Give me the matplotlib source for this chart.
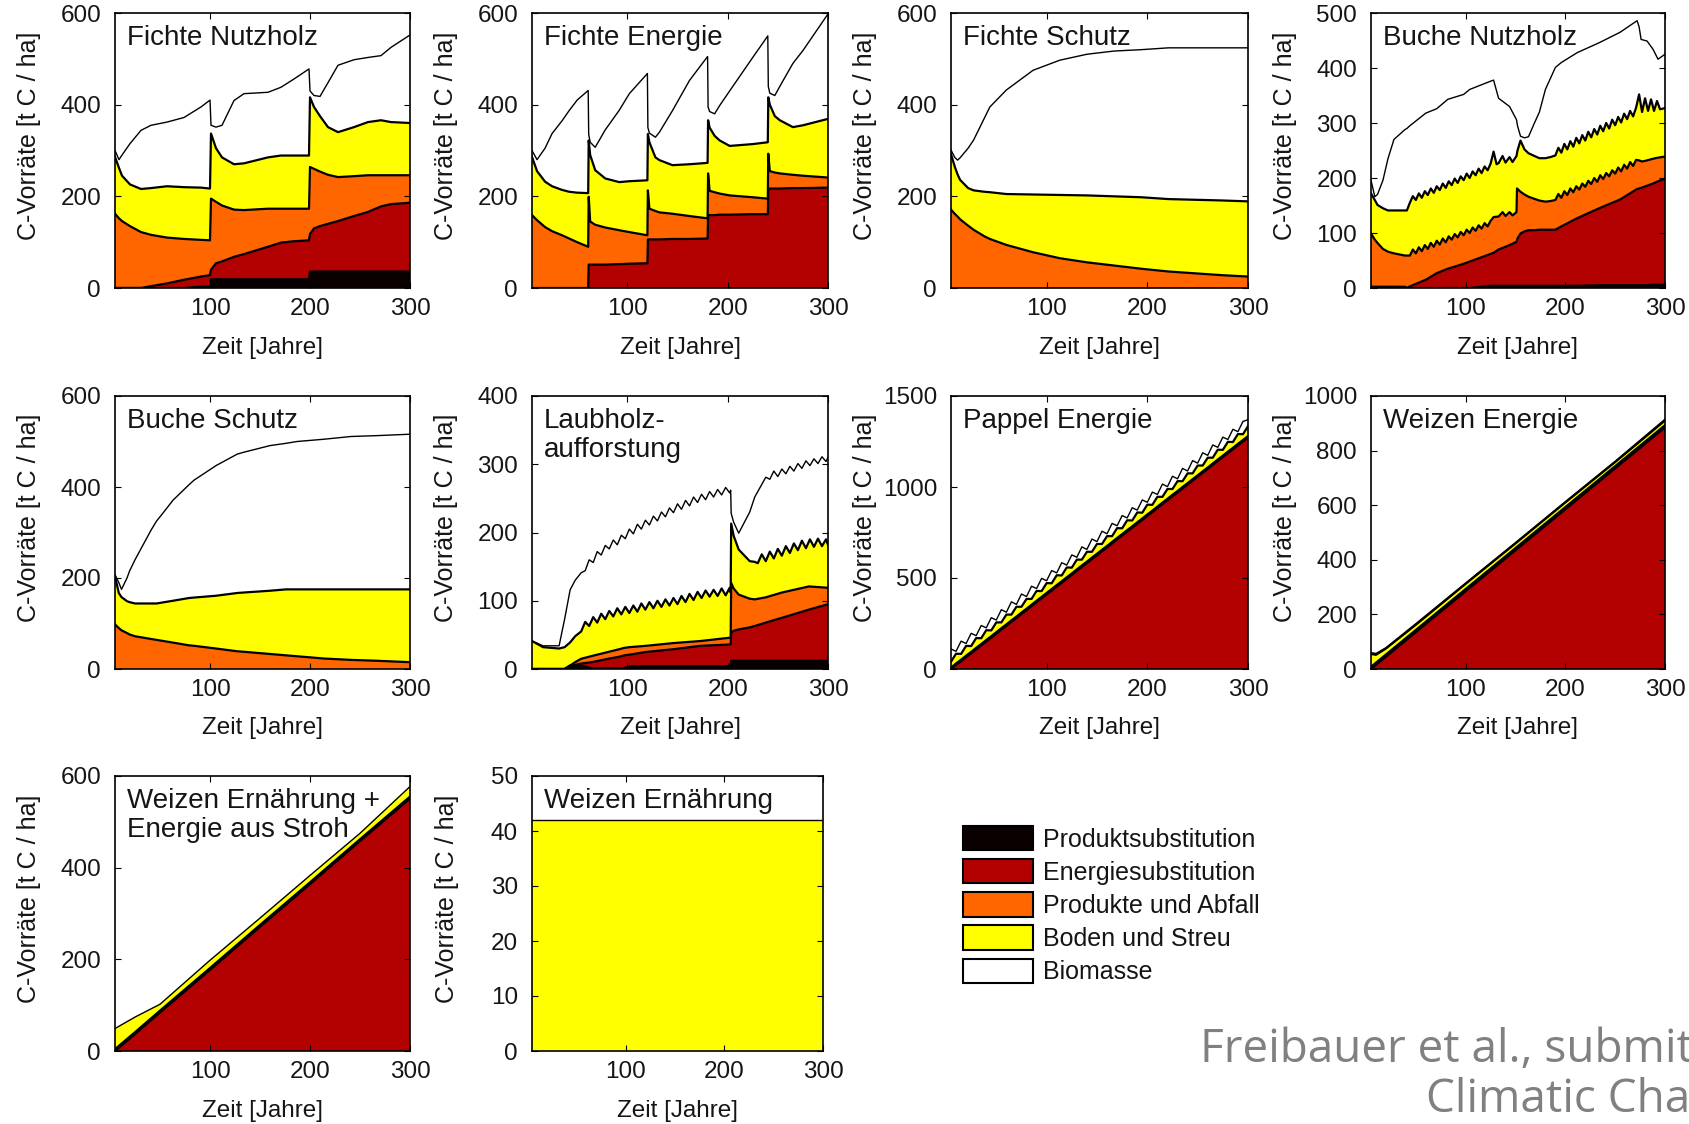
import matplotlib
matplotlib.use('Agg')
import matplotlib.pyplot as plt
from matplotlib.patches import Patch

plt.rcParams['font.family'] = ['Liberation Sans', 'DejaVu Sans']

# ---------------- data (cumulative tops of the stacked layers) ----------------
LABELS = ['Produktsubstitution', 'Energiesubstitution', 'Produkte und Abfall',
          'Boden und Streu', 'Biomasse']
COLORS = ['#0a0000', '#b30000', '#ff6600', '#ffff00', '#ffffff']

# Fichte Nutzholz
fn_year = [5, 9, 12, 20, 31, 41, 57, 74, 91, 100, 101, 106, 112, 124, 134, 158, 171, 184, 199,
           200, 204, 210, 218, 228, 244, 258, 271, 281, 300]
fn_prod = [0, 0, 0, 0, 0, 0, 0, 0, 3, 4, 19, 19, 19, 19, 19, 19, 19, 19, 19,
           36, 36, 36, 36, 36, 36, 36, 36, 36, 36]
fn_ener = [0, 0, 0, 0, 0, 4, 10, 18, 25, 28, 40, 54, 58, 68, 74, 90, 99, 102, 104,
           118, 130, 135, 140, 146, 157, 166, 178, 183, 186]
fn_abf = [162, 152, 146, 135, 122, 116, 110, 107, 105, 104, 195, 188, 180, 171, 170, 173, 173, 173, 173,
          264, 260, 254, 247, 242, 244, 246, 246, 246, 246]
fn_bod = [286, 262, 245, 226, 216, 218, 222, 220, 219, 217, 337, 305, 285, 270, 272, 285, 289, 289, 289,
          416, 395, 375, 351, 340, 351, 362, 366, 362, 360]
fn_bio = [300, 280, 290, 315, 344, 355, 362, 372, 395, 410, 355, 351, 355, 409, 424, 427, 438, 456, 478,
          430, 420, 418, 448, 486, 498, 503, 507, 525, 552]

# Fichte Energie
fe_year = [5, 10, 18, 25, 35, 42, 50, 61, 61.5, 63, 68, 78, 92, 102, 120, 120.5, 122, 128, 132, 145,
           162, 180, 180.5, 182, 187, 192, 202, 225, 240, 240.5, 242, 247, 252, 265, 275, 300]
fe_ener = [0, 0, 0, 0, 0, 0, 0, 0, 51, 51, 51, 51, 52, 53, 54, 106, 106, 106, 106, 107,
           107, 108, 159, 159, 159, 160, 160, 161, 161, 217, 217, 217, 217, 218, 218, 219]
fe_abf = [159, 148, 133, 124, 115, 108, 100, 90, 199, 145, 138, 132, 126, 122, 115, 213, 173, 168, 165, 162,
          157, 152, 250, 212, 209, 206, 202, 198, 195, 293, 255, 252, 250, 247, 245, 241]
fe_bod = [286, 255, 232, 222, 214, 210, 208, 207, 322, 290, 257, 239, 231, 233, 235, 336, 318, 285, 279, 268,
          270, 273, 366, 350, 332, 322, 310, 314, 318, 416, 400, 375, 366, 351, 355, 369]
fe_bio = [300, 280, 305, 337, 365, 387, 410, 431, 335, 318, 307, 345, 388, 424, 468, 350, 338, 329, 340, 387,
          453, 505, 395, 385, 380, 398, 430, 503, 550, 440, 425, 420, 440, 490, 518, 598]

# Fichte Schutz
fs_year = [5, 8.7, 11.5, 14, 22, 27.5, 38, 43.6, 60, 86.5, 113, 140, 167, 194, 221, 274, 300]
fs_abf = [171, 162, 156, 150, 136, 127, 113, 107, 94, 78, 65, 56, 49, 42, 36, 28, 25]
fs_bod = [292, 265, 248, 236, 218, 213, 210, 209, 205, 204, 203, 202, 200, 198, 194, 191, 189]
fs_bio = [301, 285, 279, 284, 305, 323, 370, 395, 432, 475, 497, 510, 517, 520, 524, 524, 524]

# Buche Nutzholz
bn_year = [5, 8.8, 11.5, 17, 22, 28, 39, 41, 44, 60, 71, 82, 98, 104, 125, 128, 133, 144, 151, 152,
           155, 159, 163, 169, 174, 180, 190, 196, 212, 234, 255, 272, 274, 276, 282, 288, 293, 300]
bn_prod = [2, 2, 2, 2, 2, 2, 2, 0, 0, 0, 0, 0, 0, 0, 4, 4, 4, 4, 4, 4,
           4, 4, 4, 4, 4, 4, 4, 4, 4, 5, 5, 5, 5, 5, 5, 6, 6, 6]
bn_ener = [2, 2, 2, 2, 2, 2, 2, 0, 3, 15, 27, 35, 44, 48, 62, 64, 70, 78, 84, 90,
           99, 103, 105, 105, 106, 106, 106, 112, 127, 145, 161, 180, 181, 182, 186, 190, 194, 199]
bn_bio = [196, 166, 170, 196, 235, 270, 288, 290, 295, 318, 326, 343, 352, 361, 376, 378, 345, 330, 306, 295,
          276, 273, 275, 300, 320, 361, 401, 410, 428, 446, 465, 486, 475, 452, 449, 434, 416, 425]
bn_abf_year = [5, 8.8, 11.5, 17, 22, 28, 39, 41,
               44, 47, 50, 53, 56, 59, 62, 65, 68, 71, 74, 77, 80, 83, 86, 89, 92, 95, 98, 101,
               104, 107, 110, 113, 116, 119, 122, 125,
               128, 133, 137, 140, 144, 147, 151, 151.5, 155, 159, 163, 169, 174, 180, 185,
               190, 193, 196, 199, 202, 205, 208, 211, 214, 217, 220, 223, 226, 229, 232, 235,
               238, 241, 244, 247, 250, 253, 256, 259, 262, 265, 268, 271,
               274, 277, 282, 288, 293, 300]
bn_abf = [99, 88, 82, 71, 66, 63, 59, 59,
          59, 70, 63, 74, 67, 78, 71, 82, 75, 86, 79, 90, 83, 94, 88, 98, 92, 102, 96, 106,
          100, 110, 104, 114, 108, 118, 112, 122,
          129, 130, 138, 131, 138, 132, 138, 181, 175, 170, 166, 162, 159, 157, 158,
          160, 171, 164, 176, 169, 181, 174, 185, 179, 190, 184, 195, 189, 200, 193, 205,
          198, 209, 203, 214, 208, 219, 212, 224, 217, 229, 222, 233,
          232, 230, 232, 235, 237, 239]
bn_bod_year = [5, 8.8, 11.5, 17, 22, 28, 39, 41,
               44, 47, 50, 53, 56, 59, 62, 65, 68, 71, 74, 77, 80, 83, 86, 89, 92, 95, 98, 101,
               104, 107, 110, 113, 116, 119, 122, 125,
               128, 131, 133, 137, 140, 144, 147, 151, 152, 155, 159, 163, 169, 174, 180, 185,
               190, 193, 196, 199, 202, 205, 208, 211, 214, 217, 220, 223, 226, 229, 232, 235,
               238, 241, 244, 247, 250, 253, 256, 259, 262, 265, 268, 271,
               274, 277, 280, 283, 286, 289, 292, 295, 300]
bn_bod = [172, 160, 151, 145, 141, 141, 141, 141,
          155, 167, 160, 172, 164, 176, 169, 181, 173, 185, 178, 190, 182, 194, 187, 199, 191, 203, 196, 208,
          200, 212, 205, 217, 209, 221, 214, 226,
          248, 225, 227, 240, 228, 238, 229, 240, 250, 268, 252, 245, 240, 236, 236, 238,
          241, 255, 246, 262, 252, 267, 257, 273, 263, 278, 268, 284, 274, 289, 279, 295,
          285, 300, 290, 306, 296, 311, 301, 317, 307, 322, 312, 328,
          352, 320, 345, 322, 343, 322, 340, 325, 327]

# Buche Schutz
bs_year = [5, 8.8, 11.5, 17, 19.5, 25, 41, 46.5, 52, 63, 79, 84, 106, 127, 133, 160, 176, 187, 214, 241, 268, 300]
bs_abf = [98, 90, 85, 79, 76, 72, 66, 64, 62, 58, 52, 51, 45, 39, 38, 33, 30, 28, 23, 20, 18, 15]
bs_bod = [204, 167, 158, 149, 147, 144, 144, 144, 146, 150, 156, 157, 161, 167, 168, 172, 175, 175, 175, 175, 175, 175]
bs_bio = [207, 190, 175, 200, 215, 240, 305, 325, 340, 371, 405, 415, 447, 472, 476, 491, 496, 500, 505, 511, 513, 516]

# Laubholzaufforstung
la_year = [5, 16, 32, 37.5, 43, 48, 54, 64.5, 81, 92, 97, 102, 119, 146, 173, 203, 203.5, 206, 211, 222,
           227, 238, 254, 281, 300]
la_prod = [0, 0, 0, 0, 5, 5, 5, 1, 1, 1, 1, 4, 4, 4, 4, 4, 12, 12, 12, 12, 12, 12, 12, 12, 12]
la_ener = [0, 0, 0, 0, 5, 6, 8, 10, 15, 18, 20, 21, 25, 29, 34, 36, 53, 56, 58, 61, 63, 68, 75, 87, 95]
la_abf = [0, 0, 0, 0, 5, 10, 15, 19, 25, 29, 31, 32, 34, 38, 41, 46, 126, 118, 109, 103, 102, 105, 112, 121, 119]
la_bod_year = [5, 16, 32, 37.5, 43, 48,
               54, 58, 62, 66, 70, 74, 78, 82, 86, 90, 94, 98, 102, 106, 110, 114, 118, 122, 126,
               130, 134, 138, 142, 146, 150, 154, 158, 162, 166, 170, 174, 178, 182, 186, 190,
               194, 198, 202, 203, 203.5, 206, 211, 222, 227,
               230, 234, 238, 242, 246, 250, 254, 258, 262, 266, 270, 274, 278, 282, 286, 290,
               294, 298, 300]
la_bod = [41, 32, 30, 32, 39, 48,
          55, 69, 63, 76, 68, 81, 73, 85, 77, 89, 80, 91, 82, 93, 84, 96, 87, 98, 89,
          100, 91, 102, 93, 104, 95, 107, 98, 110, 101, 113, 104, 115, 106, 116, 107,
          118, 108, 119, 112, 213, 195, 175, 158, 157,
          155, 168, 158, 172, 162, 176, 166, 180, 170, 184, 174, 188, 177, 190, 179, 191,
          180, 190, 182]
la_bio_year = [5, 16, 32, 37.5, 43, 48, 54,
               58, 62, 66, 70, 74, 78, 82, 86, 90, 94, 98, 102, 106, 110, 114, 118, 122, 126,
               130, 134, 138, 142, 146, 150, 154, 158, 162, 166, 170, 174, 178, 182, 186, 190,
               194, 198, 202, 203, 203.5, 206, 211, 222, 227, 238,
               242, 246, 250, 254, 258, 262, 266, 270, 274, 278, 282, 286, 290, 294, 298, 300]
la_bio = [41, 34, 34, 73, 116, 130, 141,
          144, 160, 156, 172, 167, 181, 176, 189, 182, 196, 191, 205, 198, 212, 205, 218, 211, 224,
          217, 230, 223, 236, 229, 242, 234, 247, 239, 252, 244, 256, 248, 260, 252, 263,
          255, 266, 258, 262, 228, 215, 199, 230, 252, 281,
          278, 290, 282, 293, 286, 297, 290, 301, 294, 305, 298, 308, 301, 311, 304, 310]

# Pappel Energie
pe_year = [5, 10, 15, 20, 25, 30, 35, 40, 45, 50, 55, 60, 65, 70, 75, 80, 85, 90, 95, 100,
           105, 110, 115, 120, 125, 130, 135, 140, 145, 150, 155, 160, 165, 170, 175, 180, 185, 190, 195, 200,
           205, 210, 215, 220, 225, 230, 235, 240, 245, 250, 255, 260, 265, 270, 275, 280, 285, 290, 295, 300]
pe_ener = [0, 22, 43, 65, 86, 108, 129, 151, 172, 194, 216, 237, 259, 280, 302, 323, 345, 367, 388, 410,
           431, 453, 474, 496, 517, 539, 561, 582, 604, 625, 647, 668, 690, 712, 733, 755, 776, 798, 819, 841,
           862, 884, 906, 927, 949, 970, 992, 1013, 1035, 1056, 1078, 1099, 1121, 1143, 1164, 1186, 1207, 1229, 1250, 1272]
pe_abf = [8, 30, 51, 73, 94, 116, 137, 159, 180, 202, 224, 245, 267, 288, 310, 331, 353, 375, 396, 418,
          439, 461, 482, 504, 525, 547, 569, 590, 612, 633, 655, 676, 698, 720, 741, 763, 784, 806, 827, 849,
          870, 892, 914, 935, 957, 978, 1000, 1021, 1043, 1064, 1086, 1107, 1129, 1151, 1172, 1194, 1215, 1237, 1258, 1280]
pe_bod = [40, 84, 83, 127, 126, 170, 169, 213, 212, 256, 256, 299, 299, 342, 342, 385, 385, 429, 428, 472,
          471, 515, 514, 558, 557, 601, 601, 644, 644, 687, 687, 730, 730, 774, 773, 817, 816, 860, 859, 903,
          902, 946, 946, 989, 989, 1032, 1032, 1075, 1075, 1118, 1118, 1161, 1161, 1205, 1204, 1248, 1247, 1291, 1290, 1334]
pe_bio = [110, 97, 153, 140, 196, 183, 239, 226, 282, 269, 326, 312, 369, 355, 412, 398, 455, 442, 498, 485,
          541, 528, 584, 571, 627, 614, 671, 657, 714, 700, 757, 743, 800, 787, 843, 830, 886, 873, 929, 916,
          972, 959, 1016, 1002, 1059, 1045, 1102, 1088, 1145, 1131, 1188, 1174, 1231, 1218, 1274, 1261, 1317, 1304, 1360, 1370]

# Weizen Energie
we_year = [5, 10, 20, 50, 100, 150, 200, 250, 300]
we_ener = [0, 15, 45, 135, 285, 435, 585, 735, 885]
we_abf = [8, 23, 53, 143, 293, 443, 593, 743, 893]
we_bod = [55, 52, 75, 162, 312, 460, 610, 758, 910]
we_bio = [60, 57, 78, 166, 315, 463, 613, 761, 915]

# Weizen Ernaehrung + Energie aus Stroh
ws_year = [5, 25, 50, 100, 150, 200, 250, 300]
ws_ener = [0, 37, 84, 177, 271, 364, 458, 551]
ws_abf = [4, 41, 88, 181, 275, 368, 462, 555]
ws_bod = [49, 74, 102, 198, 290, 383, 475, 577]

# Weizen Ernaehrung
wn_year = [5, 300]
wn_bod = [42, 42]

titles = ['Fichte Nutzholz', 'Fichte Energie', 'Fichte Schutz', 'Buche Nutzholz',
          'Buche Schutz', 'Laubholz-\naufforstung', 'Pappel Energie', 'Weizen Energie',
          'Weizen Ernährung +\nEnergie aus Stroh', 'Weizen Ernährung']
ymax = [600, 600, 600, 500, 600, 400, 1500, 1000, 600, 50]
ystep = [200, 200, 200, 100, 200, 100, 500, 200, 200, 10]

# each layer: (years, cumulative top) or None
panels = [
    [(fn_year, fn_prod), (fn_year, fn_ener), (fn_year, fn_abf), (fn_year, fn_bod), (fn_year, fn_bio)],
    [None, (fe_year, fe_ener), (fe_year, fe_abf), (fe_year, fe_bod), (fe_year, fe_bio)],
    [None, None, (fs_year, fs_abf), (fs_year, fs_bod), (fs_year, fs_bio)],
    [(bn_year, bn_prod), (bn_year, bn_ener), (bn_abf_year, bn_abf), (bn_bod_year, bn_bod), (bn_year, bn_bio)],
    [None, None, (bs_year, bs_abf), (bs_year, bs_bod), (bs_year, bs_bio)],
    [(la_year, la_prod), (la_year, la_ener), (la_year, la_abf), (la_bod_year, la_bod), (la_bio_year, la_bio)],
    [None, (pe_year, pe_ener), (pe_year, pe_abf), (pe_year, pe_bod), (pe_year, pe_bio)],
    [None, (we_year, we_ener), (we_year, we_abf), (we_year, we_bod), (we_year, we_bio)],
    [None, (ws_year, ws_ener), (ws_year, ws_abf), (ws_year, ws_bod), None],
    [None, None, None, (wn_year, wn_bod), None],
]

# ---------------- layout (pixels) ----------------
W, H = 1690, 1124
col_left = [115, 532, 951, 1371]
col_w = [295, 296, 297, 294]
row_top = [13, 396, 776]
row_bot = [288, 669, 1051]

fig = plt.figure(figsize=(W / 100, H / 100), dpi=100)
TXT = '#151515'

for k, layers in enumerate(panels):
    r, c = divmod(k, 4)
    l = col_left[c] / W
    b = 1 - row_bot[r] / H
    w = col_w[c] if k != 9 else 291
    ax = fig.add_axes([l, b, w / W, (row_bot[r] - row_top[r]) / H])
    present = [i for i, t in enumerate(layers) if t is not None]
    # paint from the top layer downwards, each from zero to its cumulative top
    for i in reversed(present):
        xs, ys = layers[i]
        ax.fill_between(xs, 0, ys, facecolor=COLORS[i], edgecolor='none', lw=0)
    for i in present:
        xs, ys = layers[i]
        lw = 1.0 if i == present[-1] else 1.6
        ax.plot(xs, ys, color='black', lw=lw)
    ax.set_xlim(5, 300)
    ax.set_ylim(0, ymax[k])
    ax.set_xticks([100, 200, 300])
    ax.set_yticks(list(range(0, ymax[k] + 1, ystep[k])))
    ax.tick_params(direction='in', top=True, right=True, length=4, width=0.8,
                   labelsize=17.5, colors='black', labelcolor=TXT)
    ax.tick_params(axis='y', pad=10)
    ax.tick_params(axis='x', pad=7)
    for s in ax.spines.values():
        s.set_linewidth(1.2)
    ax.set_ylabel('C-Vorräte [t C / ha]', fontsize=18, color=TXT)
    ax.yaxis.set_label_coords(-0.25, 0.555)
    ax.set_xlabel('Zeit [Jahre]', fontsize=17.5, color=TXT)
    ax.xaxis.set_label_coords(0.5, -0.177)
    ax.text(0.04, 0.955, titles[k], transform=ax.transAxes, va='top', ha='left',
            fontsize=20, color=TXT, linespacing=1.15)

handles = [Patch(facecolor=cl, edgecolor='black', linewidth=1.5) for cl in COLORS]
fig.legend(handles, LABELS, loc='upper left', bbox_to_anchor=(963 / W, 1 - 826 / H),
           frameon=False, fontsize=18, handlelength=2.8, handleheight=1.12,
           handletextpad=0.4, labelspacing=0.3, borderpad=0, borderaxespad=0,
           labelcolor=TXT)

fig.text(1200 / W, 1 - 1062 / H, 'Freibauer et al., submitted to', fontsize=33,
         color='#808080', family=['Open Sans', 'DejaVu Sans'], ha='left', va='baseline')
fig.text(1426 / W, 1 - 1112 / H, 'Climatic Change', fontsize=33,
         color='#808080', family=['Open Sans', 'DejaVu Sans'], ha='left', va='baseline')

fig.savefig('out.png', dpi=100)
